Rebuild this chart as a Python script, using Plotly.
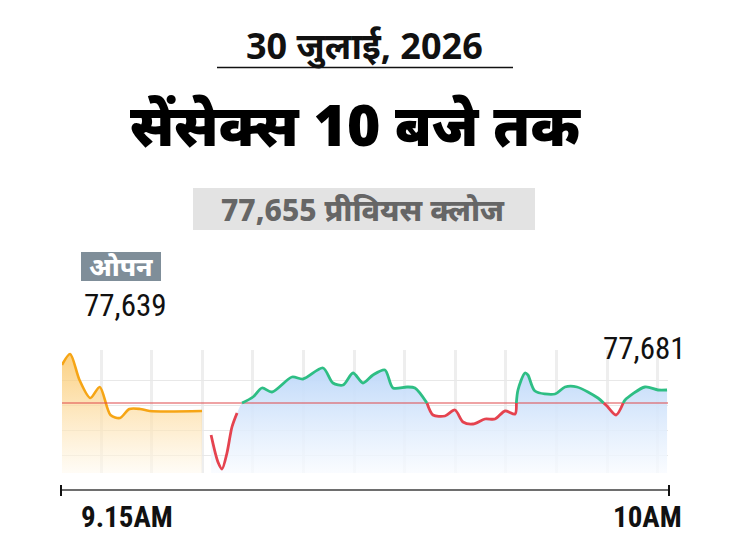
import plotly.graph_objects as go

# pre-open / opening auction part (minutes after 9:15)
pre_x = [0, 0.6, 1.3, 2.1, 2.8, 3.6, 4.3, 5.0, 5.8, 6.5, 10.4]
pre_y = [77731, 77753, 77701, 77665, 77687, 77631, 77625, 77643, 77643, 77639, 77639]

# regular session up to 10 AM
sess_x = [11.07, 11.58, 11.88, 12.25, 12.62, 13.0, 13.37, 14.18, 14.85, 15.59,
          17.08, 17.90, 19.38, 20.12, 20.87, 21.61, 22.35, 23.09, 23.98, 24.58,
          25.62, 26.21, 27.10, 27.55, 28.44, 29.18, 29.78, 30.52, 31.41, 32.15,
          32.90, 33.64, 33.86, 34.38, 34.60, 35.12, 36.61, 37.35, 38.24, 39.80,
          40.47, 41.14, 41.81, 43.29, 44.26, 44.93]
sess_y = [77591, 77537, 77523, 77555, 77607, 77635, 77655, 77667, 77685, 77677,
          77707, 77703, 77725, 77695, 77691, 77715, 77695, 77711, 77721, 77685,
          77687, 77685, 77655, 77631, 77629, 77641, 77617, 77613, 77623, 77623,
          77639, 77633, 77681, 77715, 77711, 77679, 77673, 77687, 77687, 77665,
          77649, 77631, 77661, 77687, 77681, 77681]

prev_close = 77655
open_val = 77639
last_val = 77681
date_text = "30 जुलाई, 2026"
title_text = "सेंसेक्स 10 बजे तक"
start_label, end_label = "9.15AM", "10AM"

W, H = 730, 548
OFF = 8  # page body margin pushes the plot 8px right/down
DEV = "Noto Sans, Noto Sans Devanagari, Lohit Devanagari, sans-serif"
NARROW = "Liberation Sans Narrow, Roboto Condensed, Arial Narrow, Roboto, sans-serif"


def px(v):
    return (v - OFF) / W


def py(v):
    return 1 - (v - OFF) / H


# split session line into above/below previous close pieces
def split_line(xs, ys, base):
    ax, ay, bx, by = [], [], [], []
    for i in range(len(xs)):
        if i > 0 and (ys[i - 1] - base) * (ys[i] - base) < 0:
            t = (base - ys[i - 1]) / (ys[i] - ys[i - 1])
            cx = xs[i - 1] + t * (xs[i] - xs[i - 1])
            ax.append(cx); ay.append(base)
            bx.append(cx); by.append(base)
        if ys[i] >= base:
            ax.append(xs[i]); ay.append(ys[i])
            if by and by[-1] is not None:
                bx.append(None); by.append(None)
        if ys[i] <= base:
            bx.append(xs[i]); by.append(ys[i])
            if ay and ay[-1] is not None and ys[i] < base:
                ax.append(None); ay.append(None)
    return ax, ay, bx, by


up_x, up_y, dn_x, dn_y = split_line(sess_x, sess_y, prev_close)

y_lo, y_hi = 77515, 77761

fig = go.Figure()
fig.add_trace(go.Scatter(
    x=pre_x, y=pre_y, mode="lines", line=dict(color="#F6A515", width=2.6, shape="spline", smoothing=0.8),
    fill="tozeroy",
    fillgradient=dict(type="vertical", start=y_lo, stop=y_hi,
                      colorscale=[[0, "rgba(255,250,240,0.6)"], [1, "rgba(250,190,80,0.75)"]]),
))
fig.add_trace(go.Scatter(
    x=sess_x, y=sess_y, mode="lines", line=dict(width=0, shape="spline", smoothing=0.8),
    fill="tozeroy",
    fillgradient=dict(type="vertical", start=y_lo, stop=y_hi,
                      colorscale=[[0, "rgba(248,251,255,0.8)"], [1, "rgba(180,210,248,1)"]]),
))
fig.add_trace(go.Scatter(x=[0, 45], y=[prev_close, prev_close], mode="lines",
                         line=dict(color="#E0484A", width=1.2)))
fig.add_trace(go.Scatter(x=dn_x, y=dn_y, mode="lines", connectgaps=False,
                         line=dict(color="#E5434F", width=2.8, shape="spline", smoothing=0.8)))
fig.add_trace(go.Scatter(x=up_x, y=up_y, mode="lines", connectgaps=False,
                         line=dict(color="#2EBE84", width=2.8, shape="spline", smoothing=0.8)))

shapes = [
    dict(type="line", xref="paper", yref="paper", x0=px(217), x1=px(513), y0=py(67.5), y1=py(67.5),
         line=dict(color="#111111", width=1.5)),
    dict(type="rect", xref="paper", yref="paper", x0=px(193), x1=px(535), y0=py(188), y1=py(230),
         fillcolor="#E3E3E3", line=dict(width=0), layer="below"),
    dict(type="rect", xref="paper", yref="paper", x0=px(81), x1=px(161), y0=py(252), y1=py(281),
         fillcolor="#7F8E99", line=dict(width=0), layer="below"),
    dict(type="line", xref="paper", yref="paper", x0=px(61), x1=px(669), y0=py(490), y1=py(490),
         line=dict(color="#6E6E6E", width=2)),
    dict(type="line", xref="paper", yref="paper", x0=px(61), x1=px(61), y0=py(485), y1=py(496),
         line=dict(color="#111111", width=2)),
    dict(type="line", xref="paper", yref="paper", x0=px(669), x1=px(669), y0=py(485), y1=py(496),
         line=dict(color="#111111", width=2)),
]

annotations = [
    dict(text=date_text, x=px(364), y=py(45), font=dict(family=DEV, size=36, color="#111111", weight="bold")),
    dict(text=title_text, x=px(355), y=py(124), font=dict(family=DEV, size=57, color="#000000", weight=900)),
    dict(text=f"{prev_close:,} प्रीवियस क्लोज", x=px(363), y=py(210),
         font=dict(family=DEV, size=30, color="#666666", weight=800)),
    dict(text="ओपन", x=px(121), y=py(266), font=dict(family=DEV, size=26, color="#FFFFFF", weight=800)),
    dict(text=f"{open_val:,}", x=px(82), y=py(306), xanchor="left",
         font=dict(family=NARROW, size=31, color="#111111")),
    dict(text=f"{last_val:,}", x=px(688), y=py(348), xanchor="right",
         font=dict(family=NARROW, size=31, color="#111111")),
    dict(text=f"<b>{start_label}</b>", x=px(79), y=py(517), xanchor="left",
         font=dict(family=NARROW, size=29, color="#111111")),
    dict(text=f"<b>{end_label}</b>", x=px(684), y=py(517), xanchor="right",
         font=dict(family=NARROW, size=29, color="#111111")),
]
for a in annotations:
    a.update(xref="paper", yref="paper", showarrow=False)
    a.setdefault("xanchor", "center")
    a.setdefault("yanchor", "middle")

fig.update_layout(
    width=W, height=H, showlegend=False,
    margin=dict(l=0, r=0, t=0, b=0),
    paper_bgcolor="white", plot_bgcolor="white",
    xaxis=dict(domain=[px(62), px(668)], range=[0, 45], showticklabels=False, zeroline=False,
               tick0=2.9, dtick=3.757, showgrid=True, gridcolor="#EEEEEE", gridwidth=2.5, fixedrange=True),
    yaxis=dict(domain=[py(473), py(350)], range=[y_lo, y_hi], showticklabels=False, zeroline=False,
               tickvals=[77550, 77600, 77650, 77700], showgrid=True, gridcolor="#E8E8E8", gridwidth=1,
               fixedrange=True),
    shapes=shapes, annotations=annotations,
)

fig.write_html("out.html")
